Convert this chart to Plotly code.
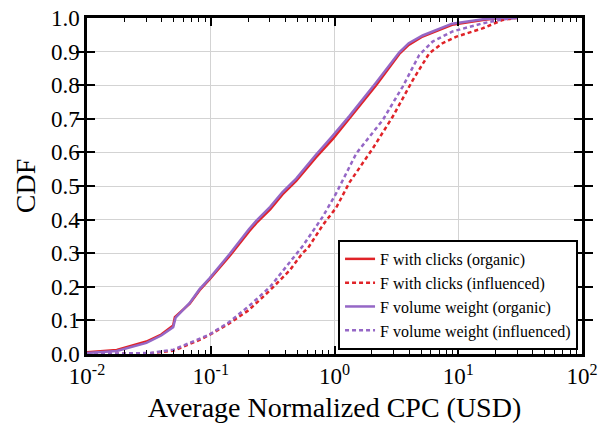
import plotly.graph_objects as go

# --- data (x in USD, y = CDF) ---
org_clicks_x = [0.01, 0.0174, 0.0302, 0.0398, 0.0497, 0.0513, 0.0676, 0.0813, 0.0977, 0.141, 0.204,
                0.234, 0.302, 0.380, 0.490, 0.708, 0.970, 1.318, 2.17, 3.34, 3.98, 5.15, 8.91, 15.8, 21.4, 30.0]
org_clicks_y = [0.005, 0.012, 0.037, 0.058, 0.085, 0.110, 0.150, 0.190, 0.222, 0.290, 0.365,
                0.390, 0.430, 0.475, 0.515, 0.585, 0.640, 0.700, 0.800, 0.893, 0.920, 0.945, 0.980, 0.994, 1.0, 1.0]

org_vol_x = [0.01, 0.0174, 0.0302, 0.0398, 0.0497, 0.0520, 0.0676, 0.0813, 0.0977, 0.141, 0.204,
             0.234, 0.302, 0.380, 0.490, 0.708, 0.970, 1.318, 2.17, 3.34, 3.98, 5.15, 8.91, 15.8, 21.4, 30.0]
org_vol_y = [0.003, 0.009, 0.033, 0.055, 0.080, 0.108, 0.152, 0.193, 0.225, 0.296, 0.372,
             0.397, 0.438, 0.482, 0.522, 0.593, 0.650, 0.708, 0.808, 0.898, 0.925, 0.948, 0.983, 0.996, 1.0, 1.0]

inf_clicks_x = [0.01, 0.0324, 0.0501, 0.0813, 0.0977, 0.141, 0.204, 0.302, 0.437, 0.550, 0.610,
                0.805, 1.03, 1.318, 2.04, 2.95, 4.29, 5.83, 7.46, 9.57, 15.7, 22.7, 29.0]
inf_clicks_y = [0.0, 0.002, 0.010, 0.042, 0.057, 0.091, 0.131, 0.190, 0.250, 0.300, 0.315,
                0.384, 0.435, 0.510, 0.612, 0.706, 0.815, 0.895, 0.925, 0.944, 0.969, 0.994, 1.0]

inf_vol_x = [0.01, 0.0324, 0.0501, 0.0813, 0.0977, 0.141, 0.204, 0.302, 0.437, 0.550,
             0.805, 1.03, 1.50, 2.45, 3.56, 4.84, 6.21, 9.0, 15.7, 21.4, 28.2]
inf_vol_y = [0.0, 0.003, 0.013, 0.045, 0.058, 0.095, 0.143, 0.200, 0.275, 0.320,
             0.409, 0.478, 0.597, 0.696, 0.796, 0.890, 0.930, 0.960, 0.984, 0.994, 1.0]

labels = ["F with clicks (organic)", "F with clicks (influenced)",
          "F volume weight (organic)", "F volume weight (influenced)"]
xtick_vals = [0.01, 0.1, 1, 10, 100]
xtick_text = ["10<sup>-2</sup>", "10<sup>-1</sup>", "10<sup>0</sup>", "10<sup>1</sup>", "10<sup>2</sup>"]
ytick_vals = [0.0, 0.1, 0.2, 0.3, 0.4, 0.5, 0.6, 0.7, 0.8, 0.9, 1.0]
decades = [0.01, 0.1, 1, 10]
minor_vals = [d * m for d in decades for m in range(2, 10)]

RED = "#e02328"
PURPLE = "#9567c6"
FONT = "Liberation Serif"

fig = go.Figure()
# invisible helper traces so the overlay axes (grid, minor ticks) are drawn
for ax in ["x3", "x2"]:
    fig.add_trace(go.Scatter(x=org_clicks_x, y=org_clicks_y, mode="lines", xaxis=ax,
                             line=dict(color="rgba(0,0,0,0)", width=0), showlegend=False,
                             hoverinfo="skip"))
fig.add_trace(go.Scatter(x=org_clicks_x, y=org_clicks_y, mode="lines", name=labels[0],
                         line=dict(color=RED, width=2.5)))
fig.add_trace(go.Scatter(x=inf_clicks_x, y=inf_clicks_y, mode="lines", name=labels[1],
                         line=dict(color=RED, width=2.5, dash="4px,3px")))
fig.add_trace(go.Scatter(x=org_vol_x, y=org_vol_y, mode="lines", name=labels[2],
                         line=dict(color=PURPLE, width=2.5)))
fig.add_trace(go.Scatter(x=inf_vol_x, y=inf_vol_y, mode="lines", name=labels[3],
                         line=dict(color=PURPLE, width=2.5, dash="4px,3px")))

fig.update_layout(
    template="none",
    width=606, height=424,
    margin=dict(l=87, r=24, t=18, b=70, autoexpand=False),
    paper_bgcolor="white", plot_bgcolor="white",
    font=dict(family=FONT, color="black", size=23),
    showlegend=True,
    legend=dict(x=0.992, y=0.012, xanchor="right", yanchor="bottom",
                bgcolor="white", bordercolor="black", borderwidth=2,
                font=dict(family=FONT, size=16, color="black"),
                tracegroupgap=0, itemwidth=30),
    xaxis=dict(
        type="log", range=[-2, 2], automargin=False,
        tickmode="array", tickvals=xtick_vals, ticktext=xtick_text,
        ticks="inside", ticklen=8, tickwidth=1.5, tickcolor="black",
        showline=True, linecolor="black", linewidth=2.5, mirror="allticks",
        showgrid=False,
        tickfont=dict(family=FONT, size=23),
        title=dict(text="Average Normalized CPC (USD)", font=dict(family=FONT, size=28), standoff=10),
        zeroline=False,
    ),
    xaxis2=dict(
        type="log", range=[-2, 2], overlaying="x", side="bottom", automargin=False,
        tickmode="array", tickvals=minor_vals, ticktext=["" for _ in minor_vals],
        ticks="inside", ticklen=4, tickwidth=1.2, tickcolor="black",
        showline=False, mirror="allticks", showgrid=False, zeroline=False,
        showticklabels=False,
    ),
    xaxis3=dict(
        type="log", range=[-2, 2], overlaying="x", side="bottom", automargin=False,
        tickmode="array", tickvals=xtick_vals, ticktext=["" for _ in xtick_vals],
        ticks="", showline=False, showgrid=True, gridcolor="#d3d3d3", gridwidth=1.2,
        zeroline=False, showticklabels=False, layer="below traces",
    ),
    yaxis=dict(
        range=[0, 1], tickmode="array", tickvals=ytick_vals, tickformat=".1f", automargin=False,
        ticks="inside", ticklen=8, tickwidth=1.5, tickcolor="black",
        showline=True, linecolor="black", linewidth=2.5, mirror="allticks",
        showgrid=True, gridcolor="#d3d3d3", gridwidth=1.2,
        tickfont=dict(family=FONT, size=23),
        title=dict(text="CDF", font=dict(family=FONT, size=28), standoff=8),
        zeroline=False,
    ),
)

fig.write_html("out.html")
